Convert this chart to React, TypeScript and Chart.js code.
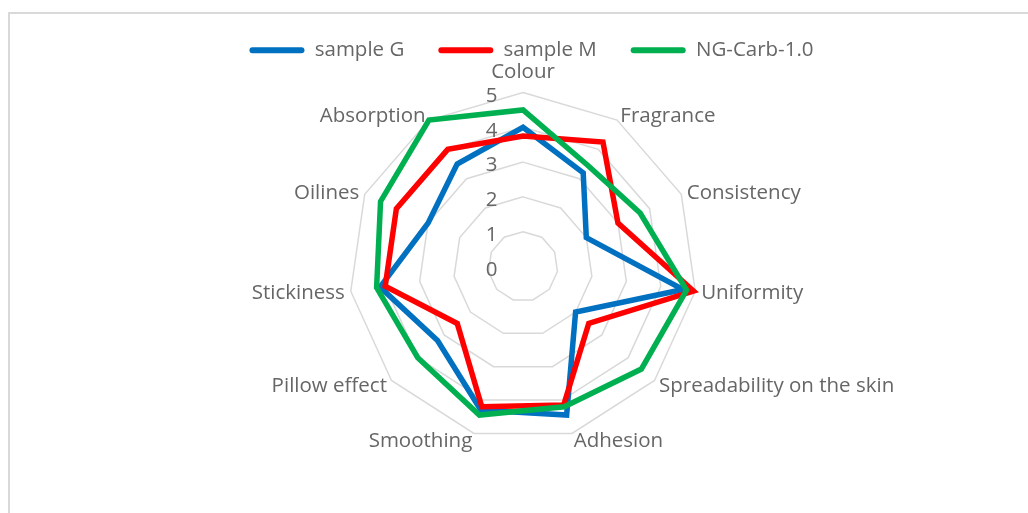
import React, { useEffect, useRef } from 'react';
import { Chart, RadialLinearScale, registerables } from 'chart.js';

Chart.register(...registerables);

const categories = [
  'Colour',
  'Fragrance',
  'Consistency',
  'Uniformity',
  'Spreadability on the skin',
  'Adhesion',
  'Smoothing',
  'Pillow effect',
  'Stickiness',
  'Oilines',
  'Absorption',
];
const seriesNames = ['sample G', 'sample M', 'NG-Carb-1.0'];
const sampleG = [4.0, 3.2, 2.0, 4.65, 2.0, 4.45, 4.3, 3.25, 4.15, 3.0, 3.5];
const sampleM = [3.75, 4.25, 3.0, 4.95, 2.5, 4.15, 4.2, 2.5, 4.0, 4.0, 4.0];
const ngCarb = [4.5, 3.45, 3.7, 4.75, 4.5, 4.2, 4.45, 4.0, 4.25, 4.5, 5.0];
const seriesColors = ['#0070C0', '#FF0000', '#00B050'];
const tickValues = [0, 1, 2, 3, 4, 5];

const FONT_FAMILY = '"Open Sans", "Noto Sans", sans-serif';
const FONT_SIZE = 20.5;
const TEXT_COLOR = '#666666';

// plot geometry (layout, not data)
const CENTER_X = 523;
const CENTER_Y = 266.5;
const RADIUS = 174;

class ExcelRadialScale extends RadialLinearScale {
  setCenterPoint() {
    this.xCenter = CENTER_X;
    this.yCenter = CENTER_Y;
    this.drawingArea = RADIUS;
  }
}
(ExcelRadialScale as any).id = 'excelRadial';
(ExcelRadialScale as any).defaults = (RadialLinearScale as any).defaults;
Chart.register(ExcelRadialScale as any);

const excelTextPlugin = {
  id: 'excelText',
  beforeDatasetsDraw(chart: any) {
    const s = chart.scales.r;
    const ctx = chart.ctx;
    ctx.save();
    ctx.font = `${FONT_SIZE}px ${FONT_FAMILY}`;
    ctx.fillStyle = TEXT_COLOR;
    ctx.textBaseline = 'middle';
    // tick labels, left of the vertical axis
    ctx.textAlign = 'center';
    tickValues.forEach((v) => {
      const y = s.yCenter - s.getDistanceFromCenterForValue(v) + 3.5;
      ctx.fillText(String(v), s.xCenter - 31.5, y);
    });
    // category labels
    categories.forEach((txt, i) => {
      const a = s.getIndexAngle(i);
      const sin = Math.sin(a);
      const pos = s.getPointPosition(i, s.drawingArea + 6);
      const px = pos.x;
      let py = pos.y + 1.5;
      let align: CanvasTextAlign = 'center';
      if (Math.abs(sin) < 0.01) {
        py = s.yCenter - s.drawingArea - 22 + 1.5;
      } else {
        align = sin > 0 ? 'left' : 'right';
      }
      ctx.textAlign = align;
      ctx.fillText(txt, px, py);
    });
    ctx.restore();
  },
};

export default function App() {
  const ref = useRef<HTMLCanvasElement>(null);
  useEffect(() => {
    const allSeries = [sampleG, sampleM, ngCarb];
    const chart = new Chart(ref.current as HTMLCanvasElement, {
      type: 'radar',
      data: {
        labels: categories,
        datasets: allSeries.map((d, i) => ({
          label: seriesNames[i],
          data: d,
          borderColor: seriesColors[i],
          backgroundColor: 'transparent',
          borderWidth: 5.5,
          borderJoinStyle: 'miter',
          fill: false,
          pointRadius: 0,
          pointHoverRadius: 0,
          order: allSeries.length - i,
          clip: false,
        })) as any,
      },
      options: {
        responsive: false,
        animation: false,
        layout: { padding: { left: 35, right: 0, top: 6, bottom: 0 } },
        plugins: {
          legend: {
            position: 'top',
            labels: {
              boxWidth: 55,
              boxHeight: 6,
              padding: 34,
              color: TEXT_COLOR,
              font: { family: FONT_FAMILY, size: FONT_SIZE },
              generateLabels: (c: any) =>
                c.data.datasets.map((ds: any, i: number) => ({
                  text: ds.label,
                  fillStyle: ds.borderColor,
                  strokeStyle: ds.borderColor,
                  lineWidth: 0,
                  hidden: false,
                  datasetIndex: i,
                  fontColor: TEXT_COLOR,
                  borderRadius: 3,
                })),
            },
          },
          tooltip: { enabled: false },
        },
        scales: {
          r: {
            type: 'excelRadial',
            min: 0,
            max: 5,
            ticks: { stepSize: 1, display: false },
            grid: { color: '#d9d9d9', lineWidth: 1.5 },
            angleLines: { display: false },
            pointLabels: { display: false },
          } as any,
        },
      } as any,
      plugins: [excelTextPlugin],
    });
    return () => chart.destroy();
  }, []);

  return (
    <div
      style={{
        position: 'fixed',
        left: 0,
        top: 0,
        width: 1028,
        height: 513,
        overflow: 'hidden',
        background: '#ffffff',
      }}
    >
      <div
        style={{
          position: 'absolute',
          left: 8,
          top: 12,
          width: 1040,
          height: 520,
          border: '2px solid #d9d9d9',
          boxSizing: 'border-box',
        }}
      />
      <canvas
        ref={ref}
        width={1028}
        height={513}
        style={{ position: 'absolute', left: 0, top: 0, width: 1028, height: 513 }}
      />
    </div>
  );
}
